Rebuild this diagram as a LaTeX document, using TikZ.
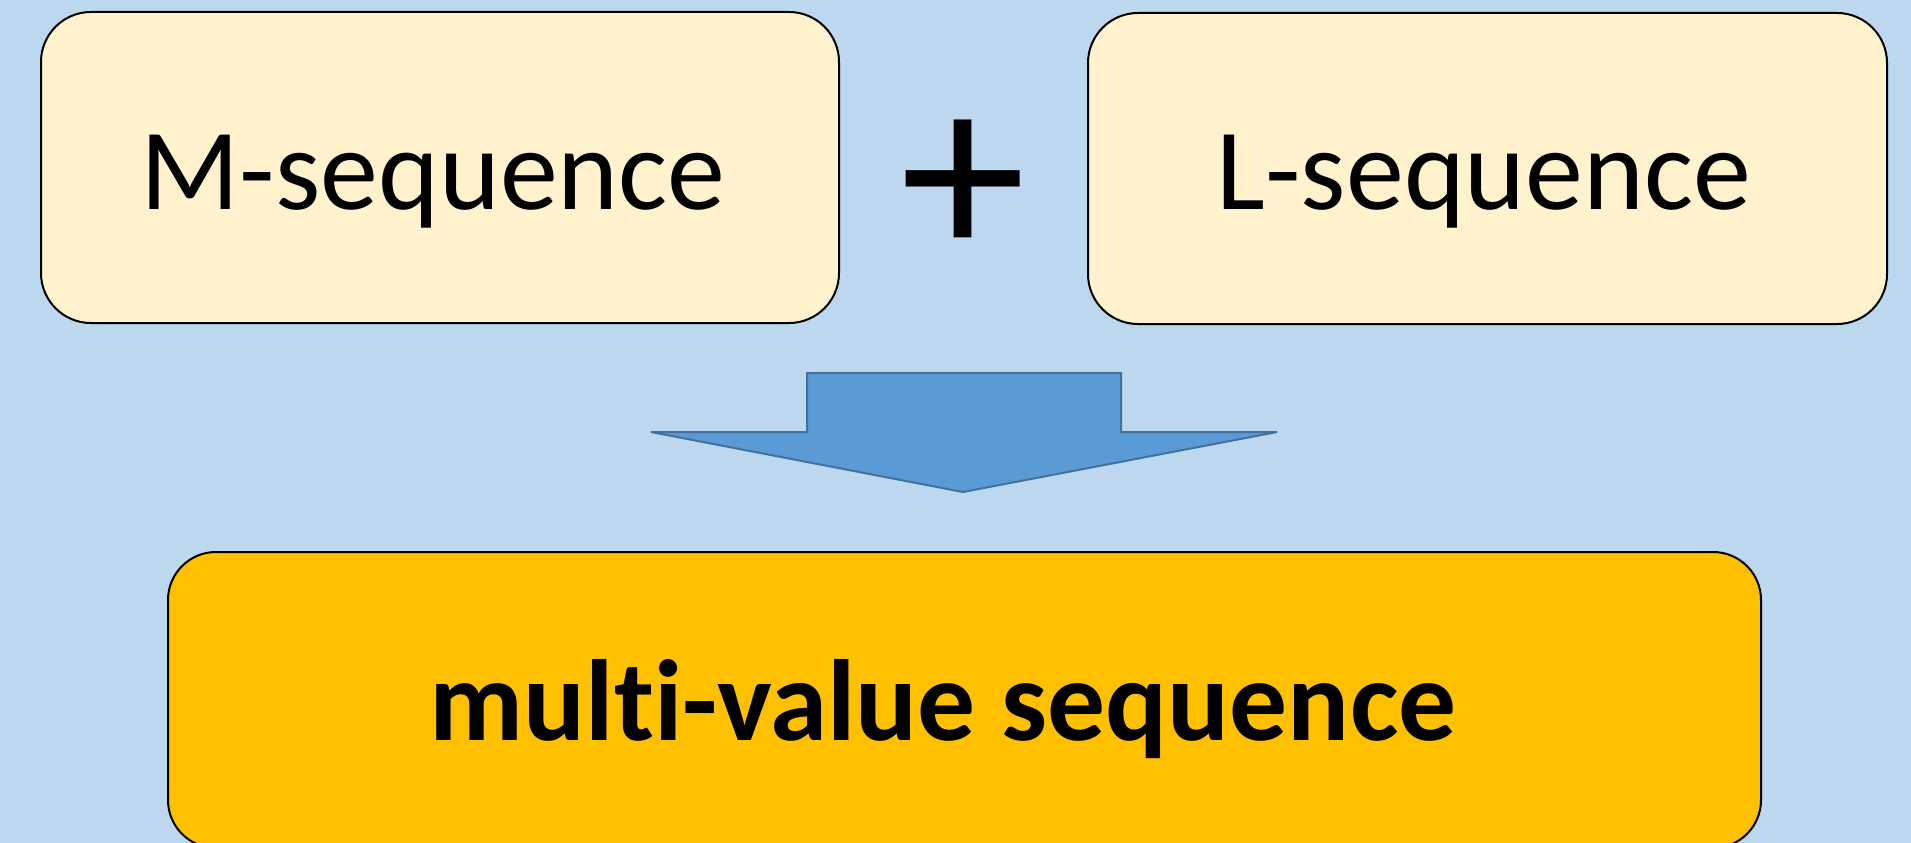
\documentclass[tikz,border=0pt]{standalone}
\usepackage{fontspec}
\setmainfont{Carlito}[Ligatures=NoCommon]
\definecolor{bgblue}{HTML}{BDD7EE}
\definecolor{cream}{HTML}{FFF2CC}
\definecolor{gold}{HTML}{FFC000}
\definecolor{arrowfill}{HTML}{5B9BD5}
\definecolor{arrowline}{HTML}{41719C}
\tikzset{
  seqbox/.style={draw=black, line width=2pt, rounded corners=50pt, fill=cream, inner sep=0pt},
  resbox/.style={draw=black, line width=2pt, rounded corners=48pt, fill=gold, inner sep=0pt},
  lbl/.style={anchor=base, inner sep=0pt, font=\fontsize{116}{116}\selectfont},
  blbl/.style={anchor=base, inner sep=0pt, font=\fontsize{115.5}{116}\selectfont\bfseries},
  bigarrow/.style={fill=arrowfill, draw=arrowline, line width=2pt, line join=miter}
}
\begin{document}
\begin{tikzpicture}[x=1pt,y=-1pt]
\fill[bgblue] (0,0) rectangle (1911,843);
\useasboundingbox (0,0) rectangle (1911,843);
\begin{scope}
\clip (0,0) rectangle (1911,843);
\node[seqbox, minimum width=798pt, minimum height=311pt] (mbox) at (440,167.5) {};
\node[seqbox, minimum width=799pt, minimum height=311pt] (lbox) at (1487.5,168.5) {};
\node[resbox, minimum width=1593pt, minimum height=296pt] (rbox) at (964.5,700) {};
\node[lbl] (mtxt) at (433,209) {M-sequence};
\node[lbl] (ltxt) at (1484,209) {L-sequence};
\node[blbl] (rtxt) at (943,740) {multi-value sequence};
\node[anchor=center, inner sep=0pt, font=\fontsize{252}{252}\selectfont] (plus) at (963,189) {+};
\draw[bigarrow] (807,373) -- (1121,373) -- (1121,432) -- (1277,432) -- (963,492) -- (651,432) -- (807,432) -- cycle;
\end{scope}
\end{tikzpicture}
\end{document}
